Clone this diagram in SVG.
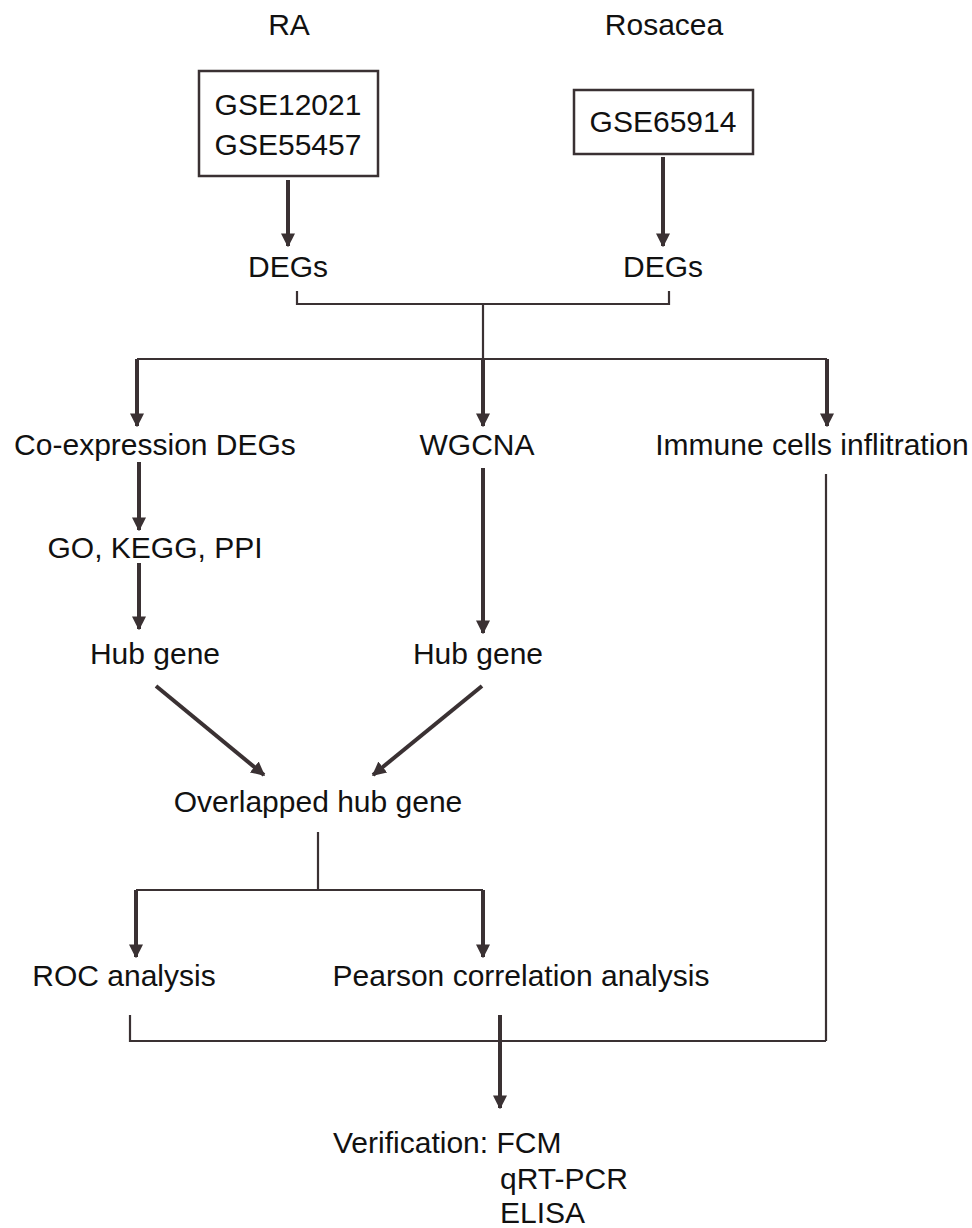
<svg xmlns="http://www.w3.org/2000/svg" width="972" height="1228" viewBox="0 0 972 1228">
<style>
text{font-family:"Liberation Sans",Arial,sans-serif;font-size:30px;fill:#111;}
.c{text-anchor:middle;}
.thin{stroke:#3a3133;stroke-width:2.2;fill:none;}
.arr{stroke:#3a3133;stroke-width:4;fill:none;marker-end:url(#ah);}
.box{fill:#fff;stroke:#3a3133;stroke-width:2.5;}
</style>
<defs>
<marker id="ah" viewBox="0 0 10 10" refX="9" refY="5" markerUnits="userSpaceOnUse" markerWidth="14" markerHeight="20" orient="auto">
<path d="M0,0 L10,5 L0,10 Z" fill="#3a3133"/>
</marker>
</defs>
<rect width="972" height="1228" fill="#fff"/>
<g id="connectors">
<line class="arr" x1="288" y1="180" x2="288" y2="246"/>
<line class="arr" x1="663" y1="157" x2="663" y2="246"/>
<polyline class="thin" points="297,291 297,304 669,304 669,291"/>
<line class="thin" x1="483" y1="304" x2="483" y2="359"/>
<line class="thin" x1="137" y1="359" x2="827" y2="359"/>
<line class="arr" x1="137" y1="359" x2="137" y2="426"/>
<line class="arr" x1="483" y1="359" x2="483" y2="426"/>
<line class="arr" x1="827" y1="359" x2="827" y2="426"/>
<line class="arr" x1="139" y1="462" x2="139" y2="530"/>
<line class="arr" x1="139" y1="563" x2="139" y2="629"/>
<line class="arr" x1="483" y1="468" x2="483" y2="633"/>
<line class="arr" x1="156" y1="686" x2="264" y2="775"/>
<line class="arr" x1="482" y1="686" x2="373" y2="775"/>
<line class="thin" x1="318" y1="832" x2="318" y2="890"/>
<line class="thin" x1="136" y1="890" x2="483" y2="890"/>
<line class="arr" x1="136" y1="890" x2="136" y2="957"/>
<line class="arr" x1="483" y1="890" x2="483" y2="957"/>
<line class="thin" x1="826" y1="474" x2="826" y2="1041"/>
<polyline class="thin" points="130,1015 130,1041 826,1041"/>
<line class="arr" x1="500" y1="1015" x2="500" y2="1108"/>
</g>
<g id="label-ra"><text class="c" x="289" y="35">RA</text></g>
<g id="label-rosacea"><text class="c" x="664" y="35">Rosacea</text></g>
<g id="box-ra">
<rect class="box" x="199" y="71" width="179" height="105"/>
<text class="c" x="288" y="115">GSE12021</text>
<text class="c" x="288" y="155">GSE55457</text>
</g>
<g id="box-rosacea">
<rect class="box" x="574" y="90" width="179" height="64"/>
<text class="c" x="663" y="132">GSE65914</text>
</g>
<g id="degs-ra"><text class="c" x="288" y="277">DEGs</text></g>
<g id="degs-rosacea"><text class="c" x="663" y="277">DEGs</text></g>
<g id="coexp"><text class="c" x="155" y="455">Co-expression DEGs</text></g>
<g id="wgcna"><text class="c" x="477" y="455">WGCNA</text></g>
<g id="immune"><text class="c" x="812" y="455">Immune cells inflitration</text></g>
<g id="enrich"><text class="c" x="155" y="558">GO, KEGG, PPI</text></g>
<g id="hub1"><text class="c" x="155" y="664">Hub gene</text></g>
<g id="hub2"><text class="c" x="478" y="664">Hub gene</text></g>
<g id="overlap"><text class="c" x="318" y="812">Overlapped hub gene</text></g>
<g id="roc"><text class="c" x="124" y="986">ROC analysis</text></g>
<g id="pearson"><text class="c" x="521" y="986">Pearson correlation analysis</text></g>
<g id="verification">
<text x="333" y="1153">Verification: FCM</text>
<text x="500" y="1189">qRT-PCR</text>
<text x="500" y="1223">ELISA</text>
</g>
</svg>
